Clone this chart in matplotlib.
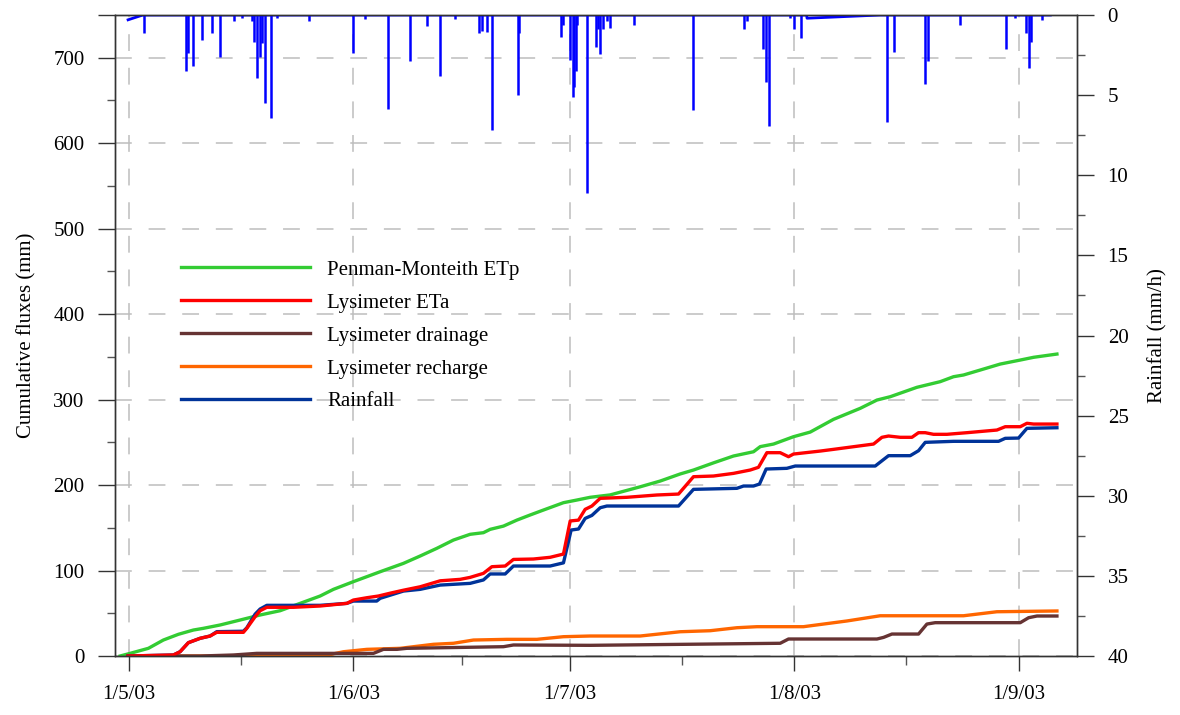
from datetime import datetime

import numpy as np
import matplotlib
matplotlib.use('Agg')
import matplotlib.pyplot as plt
import matplotlib.dates as mdates
from matplotlib.ticker import FixedLocator, MultipleLocator, FuncFormatter

plt.rcParams['font.family'] = ['Liberation Serif', 'DejaVu Serif']

# days counted from 1 May 2003
pm_day = [-1.24, 0.14, 2.67, 4.74, 6.82, 8.89, 10.28, 12.59, 15.35, 18.12, 20.89, 23.65,
          26.42, 28.26, 31.02, 34.72, 37.94, 40.25, 42.56, 44.86, 47.16, 49.0, 49.93,
          51.77, 53.62, 55.46, 57.30, 60.07, 61.92, 63.76, 66.53, 70.68, 73.44, 76.21,
          78.05, 80.82, 83.58, 86.35, 87.28, 89.12, 91.88, 94.19, 97.41, 101.11, 103.42,
          105.26, 108.95, 112.17, 114.01, 115.39, 117.70, 120.47, 123.24, 125.08, 128.31]
pm_etp = [0, 3.1, 9, 18.7, 25.4, 30.4, 32.4, 36.3, 42.1, 48, 53, 61.6,
          70.2, 78, 87, 98.6, 108.4, 117, 126, 135.7, 142.4, 144.3, 148.2,
          152, 159, 165, 170.8, 179.4, 182.5, 185.7, 188.5, 198, 204.7, 213,
          217.6, 226, 234, 239, 245, 248, 256.6, 262, 276.9, 289.8, 299.5,
          303.4, 314.4, 321, 326.8, 328.8, 334.6, 341.6, 346.3, 349.5, 353.3]

eta_day = [-0.14, 6.13, 7.05, 8.20, 9.82, 11.20, 12.13, 15.81, 16.28, 17.43, 18.12, 19.05,
           22.73, 26.42, 30.11, 31.02, 32.88, 34.48, 36.1, 37.94, 40.25, 43.02, 45.78,
           47.16, 49.0, 50.17, 52.01, 53.15, 55.92, 58.23, 60.07, 61.0, 62.15, 63.07,
           64.0, 65.15, 68.84, 72.99, 75.98, 78.05, 80.82, 83.58, 85.89, 87.04, 88.20,
           90.04, 91.19, 91.88, 95.57, 97.41, 102.95, 104.11, 105.02, 106.64, 108.26,
           109.17, 110.10, 111.24, 113.10, 115.86, 120.01, 121.16, 123.24, 124.16,
           125.08, 128.31]
lys_eta = [0, 1.2, 5, 15.6, 20.7, 23.4, 27.7, 27.7, 32.4, 46, 53, 57,
           57, 58.5, 61.6, 65.5, 68.2, 70.2, 73.5, 77, 81, 88, 89.7,
           92, 96.7, 104.5, 105.3, 113, 113.5, 115.5, 119.3, 158, 159, 171.6,
           175.5, 184.5, 185.7, 188.4, 189.5, 209.8, 210.6, 213.7, 217.6, 220.8, 237.9,
           237.9, 233.2, 236.3, 239.8, 241.8, 248, 255.9, 257.4, 255.9, 255.9,
           261.3, 261.3, 259.4, 259.4, 261.3, 264.4, 268.3, 268.3, 272.3,
           271.4, 271.4]

drain_day = [-0.14, 9.82, 14.43, 17.66, 33.79, 35.17, 37.03, 38.41, 51.77, 53.15, 63.76,
             90.04, 91.19, 103.42, 104.34, 105.49, 109.17, 110.33, 111.48, 123.24,
             124.39, 125.55, 128.31]
lys_drain = [0, 0, 1.2, 3.1, 3.1, 7.8, 7.8, 9, 10.9, 12.9, 12.5,
             14.9, 19.9, 19.9, 21.8, 25.7, 25.7, 37.4, 39, 39,
             44.8, 46.8, 46.8]

rech_day = [-0.14, 26.87, 29.64, 32.88, 37.48, 42.09, 44.86, 47.62, 52.24, 56.39, 60.07,
            63.76, 70.68, 76.21, 80.36, 84.05, 86.82, 93.26, 99.27, 103.87, 115.39,
            120.01, 128.31]
lys_rech = [0, 0, 5, 7.8, 9, 13.7, 14.9, 18.7, 19.5, 19.5, 22.6,
            23.4, 23.4, 28.4, 29.6, 33.1, 34.3, 34.3, 41, 47.1, 47.1,
            51.8, 52.7]

cum_rain_day = [-0.14, 6.13, 7.05, 8.20, 9.82, 11.20, 12.13, 15.81, 16.28, 17.43, 18.12,
                19.05, 26.42, 30.11, 31.02, 34.25, 34.72, 37.94, 40.25, 43.02, 47.16,
                49.0, 49.93, 52.01, 53.15, 58.23, 60.07, 61.13, 62.15, 63.07, 64.0,
                65.15, 66.07, 75.98, 78.05, 84.05, 84.97, 86.35, 87.18, 88.10, 90.96,
                92.12, 103.18, 105.02, 108.02, 109.17, 110.10, 114.01, 120.24, 121.16,
                123.0, 124.16, 128.31]
cum_rain = [0, 1.2, 5, 15.6, 20.7, 23.4, 28.5, 29, 33, 49, 55,
            59.3, 59.3, 61.6, 64.3, 64.3, 67.5, 76, 78, 83, 85,
            89, 96, 96, 105.3, 105.3, 109, 147.4, 148.6, 161, 164.5,
            173.5, 175.5, 175.5, 195, 196.2, 198.9, 198.9, 201.2, 218.8, 219.6,
            222.3, 222.3, 234.4, 234.4, 240.2, 250, 251.2, 251.2, 254.7,
            255, 266.4, 267.1]

# hourly rainfall intensity events
rain_day = [2.12, 7.84, 8.12, 8.81, 10.10, 11.44, 12.59, 14.52, 15.59, 16.97, 17.33,
            17.66, 18.12, 18.40, 18.81, 19.64, 20.43, 24.94, 31.02, 32.64, 35.86,
            38.87, 41.26, 43.02, 45.09, 48.45, 48.82, 49.47, 50.17, 53.76, 53.94,
            59.75, 60.07, 61.0, 61.37, 61.59, 61.83, 62.0, 63.35, 64.59, 64.91,
            65.19, 65.56, 66.11, 66.53, 69.85, 77.97, 85.10, 85.44, 87.73, 88.10,
            88.48, 91.42, 91.98, 92.90, 104.80, 105.71, 110.0, 110.47, 114.84,
            121.20, 122.54, 124.07, 124.48, 124.72, 126.24]
rain_mmh = [1.15, 3.5, 2.4, 3.2, 1.55, 1.1, 2.6, 0.4, 0.2, 0.4, 1.7,
            3.95, 2.65, 1.75, 5.5, 6.4, 0.2, 0.4, 2.4, 0.25, 5.85,
            2.9, 0.7, 3.8, 0.25, 1.1, 1.0, 1.05, 7.2, 5.0, 1.1,
            1.35, 0.6, 2.8, 5.1, 4.5, 3.5, 0.6, 11.1, 2.0, 0.9,
            2.45, 0.9, 0.4, 0.8, 0.6, 5.9, 0.9, 0.4, 2.1, 4.2,
            6.9, 0.2, 0.9, 1.45, 6.7, 2.3, 4.3, 2.9, 0.65,
            2.1, 0.2, 1.1, 3.3, 1.7, 0.3]
# rainfall record between events (includes gap-filled stretches)
rain_base_day = [-0.14, 1.9, 93.7, 93.75, 103.87, 127.4]
rain_base_mmh = [0.3, 0, 0, 0.2, 0, 0]

base = mdates.date2num(datetime(2003, 5, 1))
def t(days):
    return base + np.asarray(days, dtype=float)

fig = plt.figure(figsize=(11.8, 7.15), dpi=100)
ax = fig.add_axes([0.0975, 0.0825, 0.8153, 0.8965])
ax2 = ax.twinx()

lw = 2.4
l_pm, = ax.plot(t(pm_day), pm_etp, color='#33CC33', lw=lw, label='Penman-Monteith ETp')
l_re, = ax.plot(t(rech_day), lys_rech, color='#FF6600', lw=lw, label='Lysimeter recharge')
l_dr, = ax.plot(t(drain_day), lys_drain, color='#663333', lw=lw, label='Lysimeter drainage')
l_rf, = ax.plot(t(cum_rain_day), cum_rain, color='#003399', lw=lw, label='Rainfall')
l_et, = ax.plot(t(eta_day), lys_eta, color='#FF0000', lw=lw, label='Lysimeter ETa')

ax2.vlines(t(rain_day), 0, rain_mmh, color='#0000FF', lw=1.8)
ax2.plot(t(rain_base_day), rain_base_mmh, color='#0000FF', lw=2.0)

months = [mdates.date2num(datetime(2003, m, 1)) for m in range(5, 10)]
mids = [(a + b) / 2 for a, b in zip(months[:-1], months[1:])]

ax.set_xlim(t(-1.94), t(131.1))
ax.set_ylim(0, 750)
ax2.set_ylim(40, 0)

ax.xaxis.set_major_locator(FixedLocator(months))
ax.xaxis.set_minor_locator(FixedLocator(mids))
ax.xaxis.set_major_formatter(FuncFormatter(
    lambda v, p: '{0.day}/{0.month}/{0:%y}'.format(mdates.num2date(v))))

ax.yaxis.set_major_locator(FixedLocator(list(range(0, 800, 100)) + [750]))
ax.yaxis.set_major_formatter(FuncFormatter(lambda v, p: '' if v > 700 else '%d' % v))
ax.yaxis.set_minor_locator(MultipleLocator(50))
ax2.yaxis.set_major_locator(MultipleLocator(5))
ax2.yaxis.set_minor_locator(MultipleLocator(2.5))

grid_kw = dict(color='#BDBDBD', lw=1.1, dashes=(11, 11))
ax.xaxis.grid(True, which='major', **grid_kw)
ax.yaxis.grid(True, which='major', **grid_kw)
ax.set_axisbelow(True)

for a in (ax, ax2):
    for s in a.spines.values():
        s.set_color('#333333')
        s.set_linewidth(1.0)
ax.tick_params(axis='y', which='major', length=12, width=1, color='#333333', labelsize=15, pad=10)
ax.tick_params(axis='y', which='minor', length=6, width=1, color='#555555')
ax.tick_params(axis='x', which='major', length=11, width=1, color='#333333', labelsize=15, pad=10)
ax.tick_params(axis='x', which='minor', length=6.5, width=1, color='#555555')
ax2.tick_params(axis='y', which='major', length=12, width=1, color='#333333', labelsize=15, pad=10)
ax2.tick_params(axis='y', which='minor', length=6, width=1, color='#555555')

ax.set_ylabel('Cumulative fluxes (mm)', fontsize=15, labelpad=12)
ax2.set_ylabel('Rainfall (mm/h)', fontsize=15, labelpad=14)

ax.legend(handles=[l_pm, l_et, l_dr, l_re, l_rf], loc='upper left',
          bbox_to_anchor=(0.0686, 0.6175), frameon=False, fontsize=15,
          handlelength=6.2, handletextpad=0.8, labelspacing=0.64,
          borderpad=0, borderaxespad=0)

fig.savefig('out.png', dpi=100)
